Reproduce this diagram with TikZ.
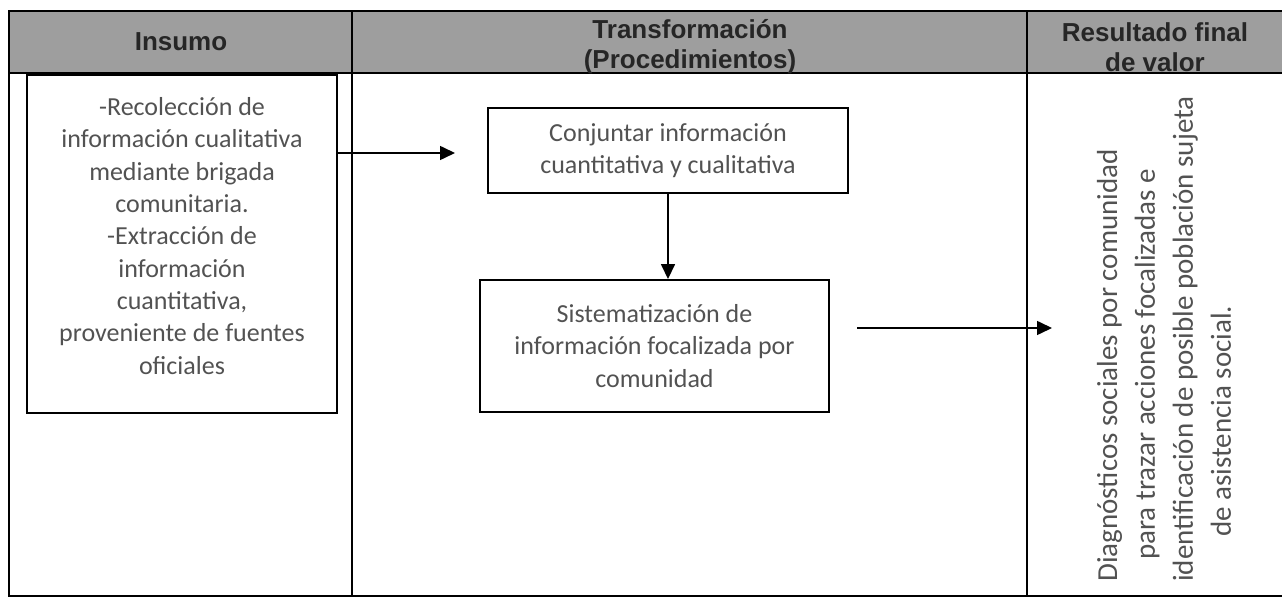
\documentclass[tikz,border=0pt]{standalone}
\usepackage{fontspec}
\setmainfont{Carlito}
\newfontfamily\headfont{Liberation Sans}
\usetikzlibrary{positioning,arrows.meta}

\begin{document}
\begin{tikzpicture}[x=0.02cm,y=-0.02cm,>={Triangle[length=0.3cm,width=0.28cm]},
    head/.style={font=\headfont\bfseries\fontsize{14.8}{17}\selectfont,text=black!85,align=center},
    cell/.style={draw,line width=1.1pt,align=center,text=black!68,inner sep=0pt,font=\fontsize{14.8}{18.4}\selectfont},
    flow/.style={->,line width=0.9pt}]

    \useasboundingbox (0,0) rectangle (1282,597);

    % table
    \fill[black!38] (9,11) rectangle (1282,73);
    \draw[line width=0.6pt] (1282,11) -- (9,11) -- (9,596) -- (1282,596);
    \draw[line width=0.6pt] (9,73) -- (1282,73);
    \draw[line width=0.6pt] (352,11) -- (352,596) (1027,11) -- (1027,596);

    \node[head] (hinsumo) at (181,42) {Insumo};
    \node[head] (htrans) at (690,47) {Transformación\\(Procedimientos)};
    \node[head] (hres) at (1155,47) {Resultado final\\de valor};

    \node[cell, minimum width=6.2cm, minimum height=6.76cm] (insumo) at (182,244)
        {-Recolección de\\información cualitativa\\mediante brigada\\comunitaria.\\-Extracción de\\información\\cuantitativa,\\proveniente de fuentes\\oficiales\\[-0.32cm]\mbox{}};
    \node[cell, minimum width=7.2cm, minimum height=1.7cm] (conjuntar) at (668,150.5)
        {Conjuntar información\\cuantitativa y cualitativa};
    \node[cell, minimum width=6.98cm, minimum height=2.64cm] (sistema) at (654.5,346)
        {Sistematización de\\información focalizada por\\comunidad};

    \node[rotate=90, anchor=west, align=left, inner sep=0pt, text=black!68, font=\fontsize{16.5}{21.6}\selectfont] (result) at (1164,582)
        {Diagnósticos sociales por comunidad\\\hspace*{0.44cm}para trazar acciones focalizadas e\\identificación de posible población sujeta\\\hspace*{0.9cm}de asistencia social.};

    \coordinate (in1) at (455,153);
    \coordinate (out1) at (857,328);
    \coordinate (out2) at (1052,328);

    \path[flow]
    (insumo.east |- in1) edge (in1)
    (conjuntar.south) edge (conjuntar.south |- sistema.north)
    (out1) edge (out2);
\end{tikzpicture}
\end{document}
